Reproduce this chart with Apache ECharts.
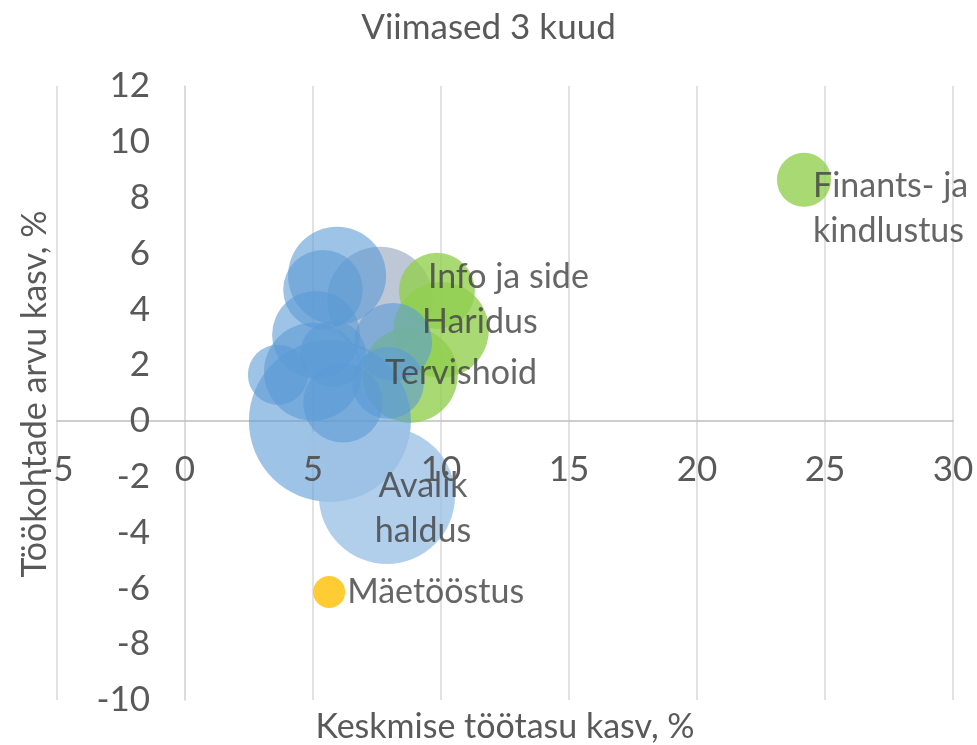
<!DOCTYPE html>
<html>
<head>
<meta charset="utf-8">
<script src="https://cdn.jsdelivr.net/npm/echarts@6/dist/echarts.min.js"></script>
<style>
html,body{margin:0;padding:0;background:#fff;}
#chart{width:977px;height:745px;}
</style>
</head>
<body>
<div id="chart"></div>
<script>
// ---- data ----
const sectorLabels = ['', 'Avalik\nhaldus', '', '', '', '', '', '', '', '', '', '', '', 'Info ja side', 'Haridus', 'Tervishoid', 'Finants- ja\nkindlustus', 'Mäetööstus'];
const wageGrowth   = [5.66, 7.89, 5.31, 5.94, 5.39, 5.12, 5.78, 3.63, 5.00, 6.17, 8.13, 7.93, 7.62, 9.84, 10.00, 8.79, 24.18, 5.63];
const jobsGrowth   = [0.00, -2.69, -0.93, 5.20, 4.70, 3.08, 2.40, 1.65, 1.76, 0.65, 2.83, 1.36, 4.34, 4.66, 3.26, 1.65, 8.64, -6.13];
const bubbleSize   = [112, 79, 4.9, 41, 27, 33, 18.6, 15.4, 41, 27, 26, 22, 48, 24.7, 39, 39, 12.5, 4.4];
const sectorGroup  = ['big', 'light', 'light', 'blue', 'blue', 'blue', 'blue', 'blue', 'blue', 'blue', 'blue', 'blue', 'gray', 'green', 'green', 'green', 'green', 'orange'];
const xTicks = [-5, 0, 5, 10, 15, 20, 25, 30];
const yTicks = [-10, -8, -6, -4, -2, 0, 2, 4, 6, 8, 10, 12];
const chartTitle = 'Viimased 3 kuud';
const xName = 'Keskmise töötasu kasv, %';
const yName = 'Töökohtade arvu kasv, %';

// ---- styles ----
const FONT = 'Lato';
const groupOrder = ['gray', 'green', 'big', 'light', 'blue', 'orange'];
const groupColor = {
  gray: 'rgba(172,185,202,1)',
  green: 'rgba(146,208,80,1)',
  big: 'rgba(91,155,213,0.75)',
  light: 'rgba(157,195,230,1)',
  blue: 'rgba(91,155,213,0.75)',
  orange: 'rgba(255,192,0,1)'
};
const labelPlacement = {
  'Avalik\nhaldus': {offset: [36, 13], align: 'center'},
  'Info ja side': {offset: [-9, -14], align: 'left'},
  'Haridus': {offset: [-19, -8], align: 'left'},
  'Tervishoid': {offset: [-25, -2], align: 'left'},
  'Finants- ja\nkindlustus': {offset: [9, 29], align: 'left'},
  'Mäetööstus': {offset: [18, 0], align: 'left'}
};
const K = 15.31;

const series = groupOrder.map(g => {
  const data = [];
  sectorLabels.forEach((lab, i) => {
    if (sectorGroup[i] !== g) return;
    const item = {name: lab, value: [wageGrowth[i], jobsGrowth[i], bubbleSize[i]]};
    if (lab) {
      const p = labelPlacement[lab];
      item.label = {show: true, position: 'inside', offset: p.offset, align: p.align,
        formatter: lab, color: '#404040', fontFamily: FONT, fontSize: 34, lineHeight: 45};
    }
    data.push(item);
  });
  return {
    type: 'scatter',
    name: g,
    data: data,
    symbolSize: v => K * Math.sqrt(v[2]),
    itemStyle: {color: groupColor[g]},
    label: {show: false},
    emphasis: {disabled: true},
    animation: false
  };
});

const chart = echarts.init(document.getElementById('chart'), null, {renderer: 'canvas'});
chart.setOption({
  animation: false,
  title: {
    text: chartTitle, left: 'center', top: 5,
    textStyle: {fontFamily: FONT, fontSize: 35, fontWeight: 'normal', color: '#595959'}
  },
  grid: {left: 57, right: 24, top: 86, bottom: 45, containLabel: false, outerBoundsMode: 'none'},
  xAxis: [{
    type: 'value', min: xTicks[0], max: xTicks[xTicks.length - 1], interval: 5, position: 'bottom',
    axisLine: {show: true, onZero: true, lineStyle: {color: '#BFBFBF', width: 1.5}},
    axisTick: {show: false},
    axisLabel: {show: false},
    splitLine: {show: true, lineStyle: {color: '#D9D9D9', width: 1.5}}
  }, {
    type: 'value', min: xTicks[0], max: xTicks[xTicks.length - 1], interval: 5, position: 'bottom', z: 10,
    axisLine: {show: false, onZero: false},
    axisTick: {show: false},
    axisLabel: {fontFamily: FONT, fontSize: 35, color: '#595959', margin: -248},
    splitLine: {show: false}
  }],
  yAxis: {
    type: 'value', min: yTicks[0], max: yTicks[yTicks.length - 1], interval: 2,
    axisLine: {show: true, onZero: true, lineStyle: {color: '#D9D9D9', width: 1.5}},
    axisTick: {show: false},
    axisLabel: {fontFamily: FONT, fontSize: 35, color: '#595959', margin: -93},
    splitLine: {show: false}
  },
  graphic: [{
    type: 'text', x: 505, y: 727,
    style: {text: xName, fontFamily: FONT, fontSize: 34, fill: '#595959', align: 'center', verticalAlign: 'middle'}
  }, {
    type: 'text', x: 35, y: 394, rotation: Math.PI / 2,
    style: {text: yName, fontFamily: FONT, fontSize: 34, fill: '#595959', align: 'center', verticalAlign: 'middle'}
  }],
  series: series
});
</script>
</body>
</html>
